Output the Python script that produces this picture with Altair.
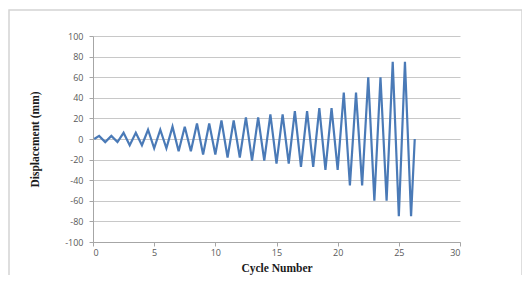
import altair as alt
import pandas as pd

# Peak amplitude (mm) for each cycle
amplitudes = [3, 3, 6, 6, 9, 9, 12, 12, 15, 15, 18, 18, 21, 21, 24, 24,
              27, 27, 30, 30, 45, 45, 60, 60, 75, 75]
start_point = (0.1, 0)
end_point = (26.3, 0)

xs = [start_point[0]]
ys = [start_point[1]]
for k, a in enumerate(amplitudes):
    xs.append(k + 0.5)
    ys.append(a)
    xs.append(k + 1.0)
    ys.append(-a)
xs.append(end_point[0])
ys.append(end_point[1])

df = pd.DataFrame({"cycle": xs, "disp": ys, "order": range(len(xs))})

x_ticks = [0, 5, 10, 15, 20, 25, 30]
y_ticks = [-100, -80, -60, -40, -20, 0, 20, 40, 60, 80, 100]

line = alt.Chart(df).mark_line(color="#4a7ab7", strokeWidth=2.2, clip=True).encode(
    x=alt.X("cycle:Q", scale=alt.Scale(domain=[0, 30], nice=False),
            axis=alt.Axis(values=x_ticks, title="Cycle Number", grid=False,
                          domainColor="#a6a6a6", tickColor="#a6a6a6", tickSize=4,
                          labelFont="Open Sans", labelFontSize=9, labelColor="#595959",
                          labelPadding=2,
                          titleFont="Liberation Serif", titleFontSize=11.5,
                          titleFontWeight="bold", titleColor="#1a1a1a", titlePadding=5)),
    y=alt.Y("disp:Q", scale=alt.Scale(domain=[-100, 100], nice=False),
            axis=alt.Axis(values=y_ticks, title="Displacement (mm)", grid=True,
                          gridColor="#c8c8c8", gridWidth=1,
                          domainColor="#a6a6a6", tickColor="#a6a6a6", tickSize=4,
                          labelFont="Open Sans", labelFontSize=9, labelColor="#595959",
                          labelPadding=6, labelExpr="'' + datum.value",
                          titleFont="Liberation Serif", titleFontSize=11.5,
                          titleFontWeight="bold", titleColor="#1a1a1a", titlePadding=24)),
    order="order:Q",
)

frame = alt.Chart(pd.DataFrame({"a": [0]})).mark_rect(
    fill=None, stroke="#d4d4d4", strokeWidth=1.5, clip=False
).encode(
    x=alt.value(-84), x2=alt.value(429), y=alt.value(-26), y2=alt.value(280)
)

chart = alt.layer(frame, line).properties(
    width=367, height=206,
    autosize=alt.AutoSizeParams(type="none"),
    padding={"left": 85, "top": 28, "right": 62, "bottom": 33},
    background="white",
).configure_view(stroke=None)

chart.save("out.html", embed_options={"renderer": "svg", "actions": False})
